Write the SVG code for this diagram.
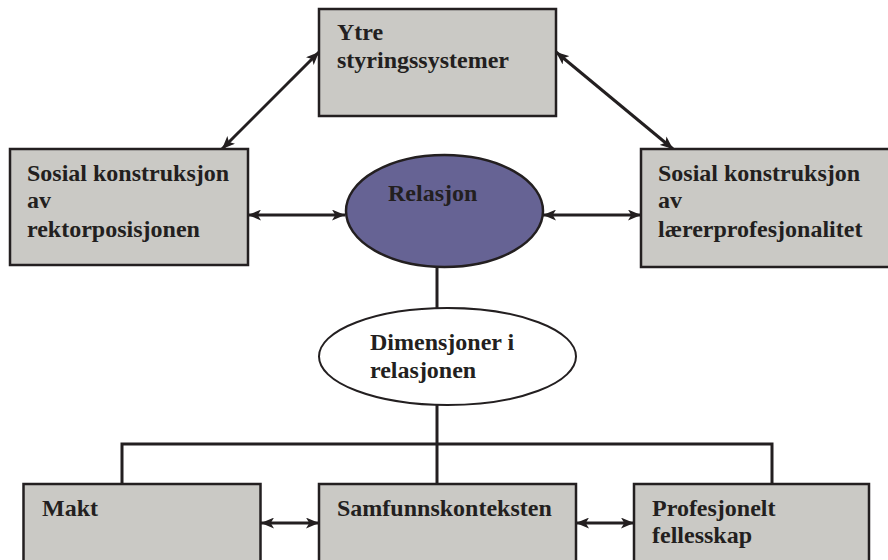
<svg xmlns="http://www.w3.org/2000/svg" width="888" height="560" viewBox="0 0 888 560">
<style>
.box{fill:#cac9c5;stroke:#231f20;stroke-width:2.5}
.t{font-family:"Liberation Serif","Times New Roman",serif;font-weight:bold;font-size:24px;fill:#231f20}
.ln{stroke:#231f20;stroke-width:3;fill:none}
.ar{stroke:#231f20;stroke-width:3;fill:none;marker-start:url(#ah);marker-end:url(#ah)}
</style>
<defs>
<marker id="ah" viewBox="0 0 12 10" refX="12" refY="5" markerWidth="13" markerHeight="11" markerUnits="userSpaceOnUse" orient="auto-start-reverse">
<path d="M0,0 L12,5 L0,10 L3,5 Z" fill="#231f20"/>
</marker>
</defs>
<rect width="888" height="560" fill="#fff"/>
<g id="connectors">
<line class="ar" x1="222" y1="149" x2="319" y2="52"/>
<line class="ar" x1="556" y1="52" x2="673" y2="149"/>
<line class="ar" x1="248" y1="215" x2="345" y2="215"/>
<line class="ar" x1="543" y1="215" x2="641" y2="215"/>
<line class="ln" x1="437" y1="267" x2="437" y2="308"/>
<line class="ln" x1="437" y1="405" x2="437" y2="484"/>
<polyline class="ln" points="122,484 122,444 772,444 772,484"/>
<line class="ar" x1="261" y1="523" x2="319" y2="523"/>
<line class="ar" x1="576" y1="523" x2="634" y2="523"/>
</g>
<g id="ytre">
<rect class="box" x="319" y="9" width="237" height="107"/>
<text class="t" x="337" y="40">Ytre</text>
<text class="t" x="337" y="68">styringssystemer</text>
</g>
<g id="rektor">
<rect class="box" x="10" y="149" width="238" height="116"/>
<text class="t" x="27" y="181">Sosial konstruksjon</text>
<text class="t" x="27" y="208">av</text>
<text class="t" x="27" y="237">rektorposisjonen</text>
</g>
<g id="laerer">
<rect class="box" x="641" y="149" width="260" height="118"/>
<text class="t" x="658" y="181">Sosial konstruksjon</text>
<text class="t" x="658" y="208">av</text>
<text class="t" x="658" y="237">lærerprofesjonalitet</text>
</g>
<g id="relasjon">
<ellipse cx="444.5" cy="211" rx="98.5" ry="56" fill="#666394" stroke="#231f20" stroke-width="2.5"/>
<text class="t" x="388" y="201">Relasjon</text>
</g>
<g id="dimensjoner">
<ellipse cx="447.5" cy="356.5" rx="128.5" ry="48.5" fill="#fff" stroke="#231f20" stroke-width="2"/>
<text class="t" x="370" y="350">Dimensjoner i</text>
<text class="t" x="370" y="378">relasjonen</text>
</g>
<g id="makt">
<rect class="box" x="23.5" y="484" width="237" height="90"/>
<text class="t" x="42" y="516">Makt</text>
</g>
<g id="samfunn">
<rect class="box" x="319" y="484" width="257" height="90"/>
<text class="t" x="337" y="516">Samfunnskonteksten</text>
</g>
<g id="profesjonelt">
<rect class="box" x="634" y="484" width="235" height="90"/>
<text class="t" x="652" y="516">Profesjonelt</text>
<text class="t" x="652" y="543">fellesskap</text>
</g>
</svg>
